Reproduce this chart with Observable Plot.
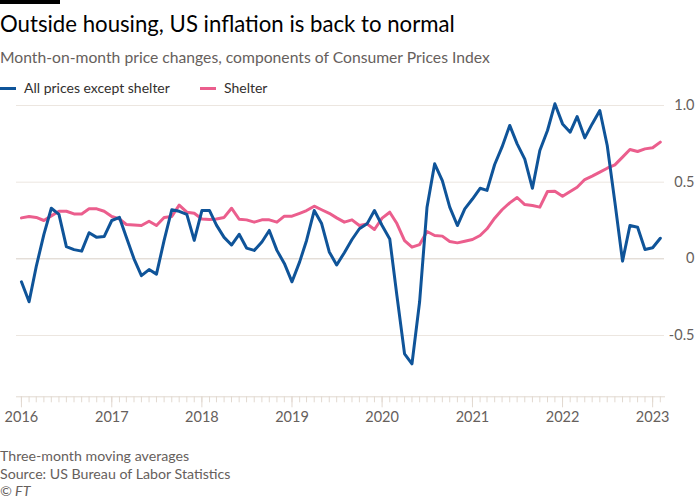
<!DOCTYPE html>
<html><head><meta charset="utf-8">
<script src="https://cdn.jsdelivr.net/npm/d3@7"></script>
<script src="https://cdn.jsdelivr.net/npm/@observablehq/plot@0.6"></script>
<style>
body{margin:0;background:#fff;font-family:Lato,"Noto Sans",sans-serif;width:700px;height:500px;position:relative;overflow:hidden}
.abs{position:absolute;left:0;white-space:nowrap}
.bar{top:0;width:60px;height:4px;background:#000}
.title{top:10px;font-size:22.2px;line-height:28px;color:#000}
.sub{top:47px;font-size:15.7px;line-height:20px;color:#66605c}
.leg{top:79px;font-size:14px;line-height:18px;color:#33302e}
.sw{position:absolute;top:87px;width:16px;height:3px}
.foot{font-size:14.2px;line-height:18px;color:#66605c}
#chart{position:absolute;left:0;top:95px}
</style></head>
<body>
<div class="abs bar"></div>
<div class="abs title">Outside housing, US inflation is back to normal</div>
<div class="abs sub">Month-on-month price changes, components of Consumer Prices Index</div>
<div class="sw" style="left:0;background:#0f5499"></div>
<div class="abs leg" style="left:24px">All prices except shelter</div>
<div class="sw" style="left:200px;background:#eb5e8d"></div>
<div class="abs leg" style="left:224px">Shelter</div>
<div id="chart"></div>
<div class="abs foot" style="top:447px">Three-month moving averages</div>
<div class="abs foot" style="top:465px">Source: US Bureau of Labor Statistics</div>
<div class="abs foot" style="top:482px;font-style:italic">© FT</div>
<script>
// Monthly observations, Jan 2016 – Feb 2023 (three-month moving averages, % m/m)
const startMonth = "2016-01-01";
const exShelter = [
  -0.15,-0.28,-0.05,0.16,0.33,0.29,0.08,0.06,0.05,0.17,0.14,0.145,
  0.25,0.27,0.14,0.00,-0.11,-0.07,-0.10,0.12,0.32,0.31,0.29,0.12,
  0.315,0.315,0.22,0.14,0.09,0.16,0.07,0.055,0.11,0.185,0.055,-0.03,
  -0.15,-0.02,0.12,0.315,0.23,0.045,-0.04,0.04,0.126,0.196,0.228,0.315,
  0.217,0.13,-0.24,-0.62,-0.685,-0.28,0.337,0.62,0.51,0.337,0.217,0.326,
  0.39,0.46,0.446,0.615,0.73,0.87,0.75,0.65,0.46,0.706,0.837,1.011,
  0.88,0.826,0.928,0.789,0.88,0.967,0.739,0.37,-0.015,0.217,0.206,0.061,
  0.072,0.134
];
const shelter = [
  0.267,0.276,0.27,0.25,0.28,0.31,0.31,0.293,0.293,0.326,0.326,0.31,
  0.276,0.26,0.224,0.22,0.217,0.245,0.217,0.27,0.276,0.35,0.304,0.297,
  0.26,0.256,0.26,0.27,0.33,0.258,0.254,0.239,0.254,0.254,0.239,0.278,
  0.278,0.297,0.315,0.343,0.32,0.297,0.267,0.239,0.254,0.217,0.228,0.191,
  0.265,0.304,0.23,0.118,0.076,0.093,0.178,0.152,0.148,0.113,0.104,0.115,
  0.126,0.152,0.196,0.265,0.32,0.365,0.40,0.354,0.348,0.337,0.439,0.441,
  0.408,0.439,0.467,0.517,0.539,0.565,0.591,0.613,0.663,0.713,0.70,0.717,
  0.724,0.761
];
const yTicks = [-0.5, 0, 0.5, 1.0];
const yearTicks = ["2016","2017","2018","2019","2020","2021","2022","2023"];

const start = new Date(startMonth);
const months = exShelter.map((_, i) => d3.utcMonth.offset(start, i));
const exData = months.map((d, i) => ({date: d, value: exShelter[i]}));
const shData = months.map((d, i) => ({date: d, value: shelter[i]}));
const xDomain = [new Date("2015-12-12"), new Date("2023-02-18")];
const monthTicks = d3.utcMonth.range(d3.utcMonth.ceil(xDomain[0]), xDomain[1]);
const yearDates = yearTicks.map(y => new Date(y + "-01-01"));

const tickColor = "#e2d9d0";
const chart = Plot.plot({
  width: 700, height: 335,
  marginTop: 10, marginBottom: 33.7, marginLeft: 16, marginRight: 36,
  x: {type: "utc", domain: xDomain, label: null},
  y: {domain: [-0.9, 1.0], label: null},
  style: {fontFamily: "Lato, 'Noto Sans', sans-serif", fontSize: "14px", color: "#66605c", background: "transparent", overflow: "visible"},
  marks: [
    Plot.ruleY(yTicks, {stroke: d => d === 0 ? "#d8cfc6" : "#ece6e0", strokeWidth: 1}),
    Plot.axisY(yTicks, {anchor: "right", label: null, tickSize: 0, tickPadding: 30, textAnchor: "end",
      tickFormat: d => d === 0 ? "0" : d.toFixed(1), fontSize: 14.5, fill: "#66605c"}),
    Plot.frame({anchor: "bottom", stroke: tickColor}),
    Plot.axisX(monthTicks, {label: null, tickSize: 6, tickFormat: () => "", stroke: tickColor}),
    Plot.axisX(yearDates, {label: null, tickSize: 11, tickPadding: 4, tickFormat: "%Y", stroke: tickColor, fill: "#66605c", fontSize: 14.5}),
    Plot.lineY(shData, {x: "date", y: "value", stroke: "#eb5e8d", strokeWidth: 3}),
    Plot.lineY(exData, {x: "date", y: "value", stroke: "#0f5499", strokeWidth: 3})
  ]
});
document.getElementById("chart").append(chart);
</script>
</body></html>
